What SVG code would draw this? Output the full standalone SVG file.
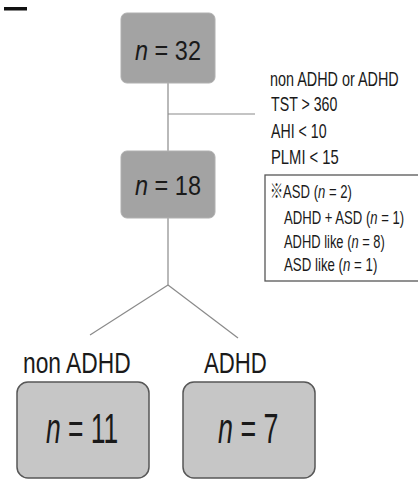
<svg xmlns="http://www.w3.org/2000/svg" width="418" height="480" viewBox="0 0 418 480">
  <style>
    text { font-family: "Liberation Sans", "Noto Sans CJK JP", Arial, sans-serif; fill: #1a1a1a; }
    .it { font-style: italic; }
    .conn line { stroke: #8a8a8a; stroke-width: 1.2; }
    .dark { fill: #a3a3a3; stroke: #b0b0b0; stroke-width: 1; }
    .light { fill: #c6c6c6; stroke: #575757; stroke-width: 1.5; }
    .note { font-size: 20px; }
    .small { font-size: 19px; }
    .mid { font-size: 28px; }
    .big { font-size: 42px; }
    .label { font-size: 30px; }
  </style>

  <!-- corner mark -->
  <rect x="4" y="7" width="23" height="3.5" fill="#111"/>

  <!-- connectors -->
  <g id="connectors" class="conn">
    <line x1="168" y1="83" x2="168" y2="151"/>
    <line x1="168" y1="114" x2="255" y2="114"/>
    <line x1="168" y1="218" x2="168" y2="285"/>
    <line x1="168" y1="285" x2="90" y2="335"/>
    <line x1="168" y1="285" x2="238" y2="338"/>
  </g>

  <!-- total -->
  <g id="node-total">
    <rect class="dark" x="121" y="13" width="94" height="70" rx="6"/>
    <text class="mid" transform="translate(135 60) scale(0.84 1)"><tspan class="it">n</tspan> = 32</text>
  </g>

  <!-- inclusion criteria (condensed) -->
  <g id="criteria" class="note">
    <text transform="translate(270 86) scale(0.72 1)">non ADHD or ADHD</text>
    <text transform="translate(271 111) scale(0.71 1)">TST &gt; 360</text>
    <text transform="translate(271 138) scale(0.71 1)">AHI &lt; 10</text>
    <text transform="translate(271 164) scale(0.74 1)">PLMI &lt; 15</text>
  </g>

  <!-- included -->
  <g id="node-included">
    <rect class="dark" x="121" y="151" width="94" height="67" rx="6"/>
    <text class="mid" transform="translate(135 195) scale(0.84 1)"><tspan class="it">n</tspan> = 18</text>
  </g>

  <!-- ASD breakdown -->
  <g id="asd-box" class="small">
    <rect x="265" y="175" width="160" height="106" fill="#fff" stroke="#575757" stroke-width="1.3"/>
    <text transform="translate(270 198) scale(0.69 1)">※ASD (<tspan class="it">n</tspan> = 2)</text>
    <text transform="translate(284 224) scale(0.69 1)">ADHD + ASD (<tspan class="it">n</tspan> = 1)</text>
    <text transform="translate(284 248) scale(0.68 1)">ADHD like (<tspan class="it">n</tspan> = 8)</text>
    <text transform="translate(284 271) scale(0.70 1)">ASD like (<tspan class="it">n</tspan> = 1)</text>
  </g>

  <!-- non ADHD group -->
  <g id="node-non-adhd">
    <text class="label" transform="translate(23 373) scale(0.76 1)">non ADHD</text>
    <rect class="light" x="17" y="382" width="132" height="96" rx="11"/>
    <text class="big" transform="translate(46 443) scale(0.63 1)"><tspan class="it">n</tspan> = 11</text>
  </g>

  <!-- ADHD group -->
  <g id="node-adhd">
    <text class="label" transform="translate(204 373) scale(0.74 1)">ADHD</text>
    <rect class="light" x="183" y="382" width="132" height="96" rx="11"/>
    <text class="big" transform="translate(218 443) scale(0.64 1)"><tspan class="it">n</tspan> = 7</text>
  </g>
</svg>
